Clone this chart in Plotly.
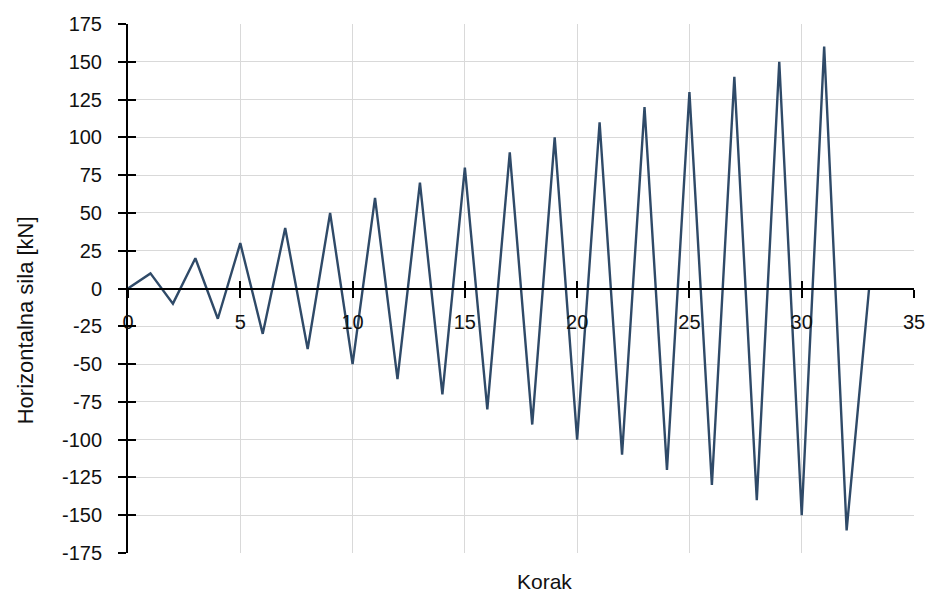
import plotly.graph_objects as go

steps = list(range(0, 34))
amplitudes = [0, 10, -10, 20, -20, 30, -30, 40, -40, 50, -50, 60, -60, 70, -70, 80, -80,
              90, -90, 100, -100, 110, -110, 120, -120, 130, -130, 140, -140, 150, -150,
              160, -160, 0]
x_ticks = [0, 5, 10, 15, 20, 25, 30, 35]
y_ticks = list(range(-175, 176, 25))

FONT = "Liberation Sans"
LINE = "#2f4a68"
GRID = "#d9d9d9"

fig = go.Figure()
fig.add_trace(go.Scatter(x=steps, y=amplitudes, mode="lines",
                         line=dict(color=LINE, width=2.4), showlegend=False,
                         hoverinfo="skip"))
# dummy trace for overlay axes (inside tick marks)
fig.add_trace(go.Scatter(x=[None], y=[None], xaxis="x2", yaxis="y2",
                         showlegend=False, hoverinfo="skip"))

common_tick = dict(tickfont=dict(family=FONT, size=20, color="#111"))

fig.update_layout(
    width=927, height=592,
    margin=dict(l=128, r=13, t=24, b=39),
    paper_bgcolor="white", plot_bgcolor="white",
    font=dict(family=FONT, size=20, color="#111"),
    xaxis=dict(range=[0, 35], tickvals=x_ticks, ticktext=[str(v) for v in x_ticks],
               showgrid=True, gridcolor=GRID, gridwidth=1.3, automargin=False,
               zeroline=False, showline=True, linecolor="black", linewidth=2,
               ticks="outside", ticklen=8, tickwidth=2, tickcolor="black",
               anchor="free", position=0.5, ticklabelstandoff=7,
               **common_tick),
    yaxis=dict(range=[-175, 175], tickvals=y_ticks, ticktext=[str(v) for v in y_ticks],
               showgrid=True, gridcolor=GRID, gridwidth=1.3, automargin=False,
               zeroline=False, showline=True, linecolor="black", linewidth=2,
               ticks="outside", ticklen=8, tickwidth=2, tickcolor="black",
               ticklabelstandoff=12,
               **common_tick),
    xaxis2=dict(overlaying="x", range=[0, 35], tickvals=x_ticks, showticklabels=False,
                showgrid=False, zeroline=False, showline=False, automargin=False,
                ticks="inside", ticklen=8, tickwidth=2, tickcolor="black",
                anchor="free", position=0.5),
    yaxis2=dict(overlaying="y", range=[-175, 175], tickvals=y_ticks, showticklabels=False,
                showgrid=False, zeroline=False, showline=False, automargin=False,
                ticks="inside", ticklen=8, tickwidth=2, tickcolor="black",
                side="left", anchor="x"),
    annotations=[
        dict(text="Korak", xref="paper", yref="paper", x=0.53, y=-0.053,
             xanchor="center", yanchor="middle", showarrow=False,
             font=dict(family=FONT, size=21, color="#111")),
        dict(text="Horizontalna sila [kN]", xref="paper", yref="paper",
             x=-0.131, y=0.44, xanchor="center", yanchor="middle", textangle=-90,
             showarrow=False, font=dict(family=FONT, size=22, color="#111")),
    ],
)

fig.write_html(
    "out.html",
    config={"displayModeBar": False},
    post_script="document.body.style.margin='0';"
                "document.body.style.overflow='hidden';"
                "document.documentElement.style.overflow='hidden';",
)
